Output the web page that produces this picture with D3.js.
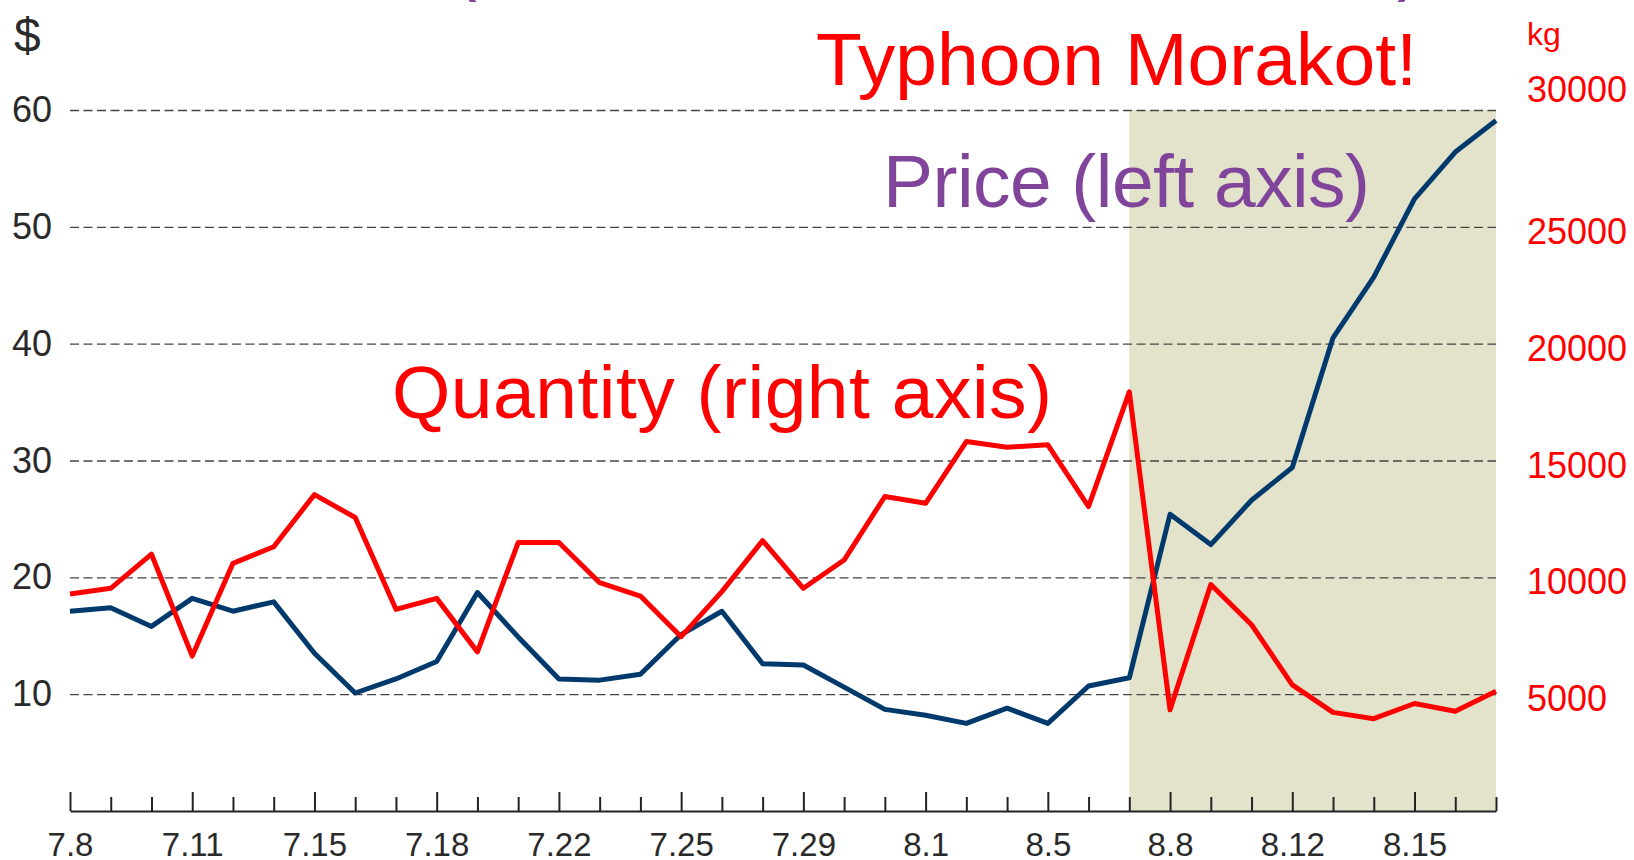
<!DOCTYPE html>
<html>
<head>
<meta charset="utf-8">
<script src="https://cdn.jsdelivr.net/npm/d3@7"></script>
<style>
  body { margin: 0; background: #fff; }
  svg { display: block; font-family: "Liberation Sans", Arial, sans-serif; }
</style>
</head>
<body>
<div id="chartDiv"></div>
<script>
// trading days, Jul 8 - Aug 18 2009 (markets closed Mondays)
const dates = ["7.8","7.9","7.10","7.11","7.12","7.14","7.15","7.16","7.17","7.18",
  "7.19","7.21","7.22","7.23","7.24","7.25","7.26","7.28","7.29","7.30",
  "7.31","8.1","8.2","8.4","8.5","8.6","8.7","8.8","8.9","8.11",
  "8.12","8.13","8.14","8.15","8.16","8.18"];
const tickLabels = ["7.8","7.11","7.15","7.18","7.22","7.25","7.29","8.1","8.5","8.8","8.12","8.15"];

// price ($, left axis)
const price = [17.1,17.4,15.8,18.2,17.1,17.9,13.5,10.1,11.3,12.8,
  18.7,14.9,11.3,11.2,11.7,15.1,17.1,12.6,12.5,10.6,
  8.7,8.2,7.5,8.8,7.5,10.7,11.4,25.4,22.8,26.6,
  29.4,40.5,45.7,52.4,56.4,59.1];
// quantity (kg, right axis)
const quantity = [9290,9530,10990,6630,10600,11310,13540,12560,8630,9100,
  6810,11490,11490,9770,9200,7460,9390,11570,9530,10740,
  13460,13170,15810,15570,15670,13030,17940,4330,9690,7970,
  5400,4220,3950,4600,4270,5120];

const leftTicks = [10,20,30,40,50,60];
const rightTicks = [5000,10000,15000,20000,25000,30000];
const typhoonSpan = ["8.7","8.18"];

const width = 1634, height = 860;
const margin = {top: 110, right: 138, bottom: 49, left: 70};

const x = d3.scalePoint(dates, [margin.left, width - margin.right]);
const y = d3.scaleLinear([0, 60], [height - margin.bottom, margin.top]);
const yQ = d3.scaleLinear([0, 30000], [height - margin.bottom, margin.top]);

const svg = d3.create("svg")
    .attr("width", width)
    .attr("height", height)
    .attr("viewBox", [0, 0, width, height]);

// typhoon period shading
svg.append("rect")
    .attr("x", x(typhoonSpan[0]))
    .attr("y", y(60))
    .attr("width", x(typhoonSpan[1]) - x(typhoonSpan[0]))
    .attr("height", y(0) - y(60))
    .attr("fill", "#e3e3cc");

// dashed gridlines
svg.append("g")
    .attr("transform", `translate(${margin.left},0)`)
    .call(d3.axisRight(y).tickValues(leftTicks).tickSize(width - margin.right - margin.left).tickFormat(""))
    .call(g => g.select(".domain").remove())
    .call(g => g.selectAll(".tick line")
        .attr("stroke", "#444")
        .attr("stroke-width", 1.4)
        .attr("stroke-dasharray", "9,4.5"));

// left axis labels
svg.append("g")
    .attr("transform", "translate(52,0)")
    .call(d3.axisLeft(y).tickValues(leftTicks).tickSize(0).tickPadding(0))
    .call(g => g.select(".domain").remove())
    .call(g => g.selectAll("text")
        .attr("font-size", 36)
        .attr("font-family", "Liberation Sans, Arial, sans-serif")
        .attr("fill", "#2a2a2a"));

// right axis labels
svg.append("g")
    .attr("transform", "translate(1527,0)")
    .call(d3.axisRight(yQ).tickValues(rightTicks).tickSize(0).tickPadding(0).tickFormat(d3.format("d")))
    .call(g => g.select(".domain").remove())
    .call(g => g.selectAll("text")
        .attr("font-size", 36)
        .attr("font-family", "Liberation Sans, Arial, sans-serif")
        .attr("fill", "#ff0000")
        .attr("dy", d => d === 30000 ? "-0.23em" : "0.46em"));

// x axis
svg.append("g")
    .attr("transform", `translate(0,${height - margin.bottom})`)
    .call(d3.axisBottom(x).tickSizeInner(-19).tickSizeOuter(0).tickPadding(22)
        .tickFormat(d => tickLabels.includes(d) ? d : ""))
    .call(g => g.select(".domain").attr("stroke", "#222").attr("stroke-width", 2.2))
    .call(g => g.selectAll(".tick line")
        .attr("stroke", "#222")
        .attr("stroke-width", 2)
        .attr("y2", d => tickLabels.includes(d) ? -19 : -14))
    .call(g => g.selectAll("text")
        .attr("font-size", 33)
        .attr("font-family", "Liberation Sans, Arial, sans-serif")
        .attr("fill", "#2a2a2a"));

const linePrice = d3.line()
    .x((d, i) => x(dates[i]))
    .y(d => y(d));
const lineQty = d3.line()
    .x((d, i) => x(dates[i]))
    .y(d => yQ(d));

svg.append("path")
    .datum(price)
    .attr("fill", "none")
    .attr("stroke", "#003a6c")
    .attr("stroke-width", 5)
    .attr("stroke-linejoin", "round")
    .attr("d", linePrice);

svg.append("path")
    .datum(quantity)
    .attr("fill", "none")
    .attr("stroke", "#ff0000")
    .attr("stroke-width", 5)
    .attr("stroke-linejoin", "round")
    .attr("d", lineQty);

// units
svg.append("text")
    .attr("x", 14).attr("y", 52)
    .attr("font-size", 48)
    .attr("fill", "#2a2a2a")
    .text("$");

svg.append("text")
    .attr("x", 1527).attr("y", 45)
    .attr("font-size", 32)
    .attr("fill", "#ff0000")
    .text("kg");

// annotations
const notes = [
  {text: "(Taiwan Central Wholesale Market)", x: 452, y: -13, len: 970, color: "#80449a"},
  {text: "Typhoon Morakot!", x: 816, y: 85, len: 601, color: "#ff0000"},
  {text: "Price (left axis)", x: 883, y: 207, len: 487, color: "#80449a"},
  {text: "Quantity (right axis)", x: 392, y: 418, len: 660, color: "#ff0000"}
];

svg.append("g")
    .selectAll("text")
    .data(notes)
    .join("text")
    .attr("x", d => d.x)
    .attr("y", d => d.y)
    .attr("font-size", 75)
    .attr("fill", d => d.color)
    .attr("textLength", d => d.len)
    .attr("lengthAdjust", "spacing")
    .text(d => d.text);

document.getElementById("chartDiv").appendChild(svg.node());
</script>
</body>
</html>
